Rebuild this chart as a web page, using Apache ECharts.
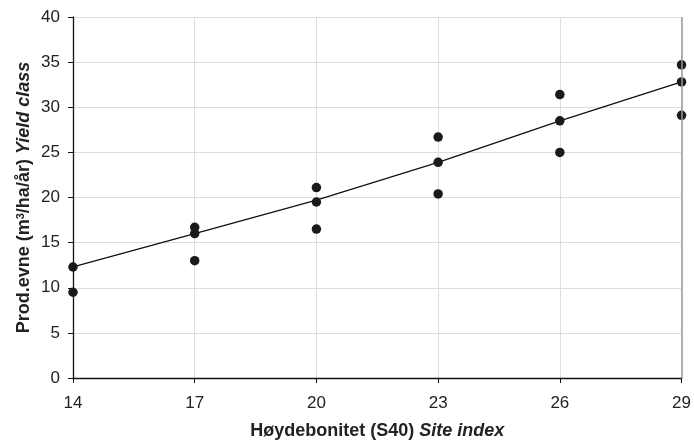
<!DOCTYPE html>
<html>
<head>
<meta charset="utf-8">
<script src="https://cdn.jsdelivr.net/npm/echarts@6/dist/echarts.min.js"></script>
<style>html,body{margin:0;padding:0;background:#fff}#c{width:694px;height:445px}</style>
</head>
<body>
<div id="c"></div>
<script>
var categories = ['14', '17', '20', '23', '26', '29'];
var pointX = ['14','14','17','17','17','20','20','20','23','23','23','26','26','26','29','29','29'];
var pointY = [12.3, 9.5, 16.7, 16.0, 13.0, 21.1, 19.5, 16.5, 26.7, 23.9, 20.4, 31.4, 28.5, 25.0, 34.7, 32.8, 29.1];
var lineY = [12.3, 16.0, 19.7, 23.9, 28.5, 32.8];
var yTicks = [0, 5, 10, 15, 20, 25, 30, 35, 40];

var chart = echarts.init(document.getElementById('c'), null, {renderer: 'canvas'});
var font = 'Liberation Sans, Arial, sans-serif';
chart.setOption({
  animation: false,
  backgroundColor: '#fff',
  grid: {left: 73, right: 11, top: 17, bottom: 64.5, show: false},
  xAxis: {
    type: 'category',
    data: categories,
    boundaryGap: false,
    name: '{b|Høydebonitet (S40) }{bi|Site index}',
    nameLocation: 'middle',
    nameGap: 44,
    nameMoveOverlap: false,
    nameTextStyle: {
      rich: {
        b: {fontFamily: font, fontSize: 18, fontWeight: 'bold', color: '#222'},
        bi: {fontFamily: font, fontSize: 18, fontWeight: 'bold', fontStyle: 'italic', color: '#222'}
      }
    },
    axisLine: {lineStyle: {color: '#111', width: 1.3}},
    axisTick: {show: true, alignWithLabel: true, length: 5, lineStyle: {color: '#111'}},
    axisLabel: {fontFamily: font, fontSize: 17, color: '#222', margin: 17},
    splitLine: {show: true, lineStyle: {color: '#dedede', width: 1}}
  },
  yAxis: {
    type: 'value',
    min: yTicks[0],
    max: yTicks[yTicks.length - 1],
    interval: 5,
    name: '{b|Prod.evne (m}{sup|3}{b|/ha/år) }{bi|Yield class}',
    nameLocation: 'middle',
    nameRotate: 90,
    nameGap: 39,
    nameMoveOverlap: false,
    nameTextStyle: {
      rich: {
        b: {fontFamily: font, fontSize: 18, fontWeight: 'bold', color: '#222'},
        sup: {fontFamily: font, fontSize: 11, fontWeight: 'bold', color: '#222', verticalAlign: 'top', padding: [0, 0, 8, 0]},
        bi: {fontFamily: font, fontSize: 18, fontWeight: 'bold', fontStyle: 'italic', color: '#222'}
      }
    },
    axisLine: {show: true, lineStyle: {color: '#111', width: 1.3}},
    axisTick: {show: true, length: 5, lineStyle: {color: '#111'}},
    axisLabel: {fontFamily: font, fontSize: 17, color: '#222', margin: 13},
    splitLine: {show: true, lineStyle: {color: '#dedede', width: 1}}
  },
  series: [
    {
      type: 'line',
      data: lineY,
      symbol: 'none',
      lineStyle: {color: '#111', width: 1.3},
      z: 2,
      markLine: {
        silent: true,
        symbol: 'none',
        label: {show: false},
        lineStyle: {color: '#9a9a9a', type: 'solid', width: 1.5},
        data: [{xAxis: categories[categories.length - 1]}]
      }
    },
    {
      type: 'scatter',
      data: pointX.map(function (x, i) { return [x, pointY[i]]; }),
      symbolSize: 9.5,
      itemStyle: {color: '#1a1a1a', opacity: 1},
      z: 3
    }
  ]
});
</script>
</body>
</html>
